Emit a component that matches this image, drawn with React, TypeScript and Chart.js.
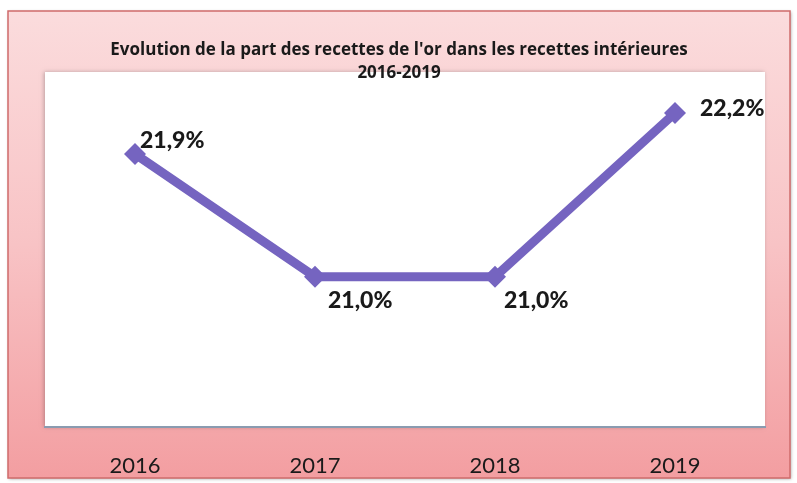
import React, { useEffect, useRef } from "react";
import { Chart, registerables } from "chart.js";

Chart.register(...registerables);

const years = ["2016", "2017", "2018", "2019"];
const shares = [21.9, 21.0, 21.0, 22.2];
const shareLabels = ["21,9%", "21,0%", "21,0%", "22,2%"];
const labelPlacement = ["aboveRight", "belowRight", "belowRight", "right"];
const titleLines = [
  "Evolution de la part des recettes de l'or dans les recettes intérieures",
  "2016-2019",
];

const TITLE_FONT = "'Open Sans', Lato, sans-serif";
const FONT = "Lato, 'Open Sans', sans-serif";

const framePlugin = {
  id: "frame",
  beforeDraw(chart: any) {
    const { ctx, chartArea } = chart;
    const x0 = 8, y0 = 11, x1 = 790, y1 = 478;
    ctx.save();
    const g = ctx.createLinearGradient(0, y0, 0, y1);
    g.addColorStop(0, "#fbdcdd");
    g.addColorStop(0.5, "#f8c3c5");
    g.addColorStop(1, "#f39ea1");
    ctx.shadowColor = "rgba(0,0,0,0.35)";
    ctx.shadowBlur = 3;
    ctx.shadowOffsetX = 1;
    ctx.shadowOffsetY = 1;
    ctx.fillStyle = g;
    ctx.fillRect(x0, y0, x1 - x0, y1 - y0);
    ctx.shadowColor = "transparent";
    ctx.strokeStyle = "#cf6b6b";
    ctx.lineWidth = 1.5;
    ctx.strokeRect(x0, y0, x1 - x0, y1 - y0);
    ctx.shadowColor = "rgba(0,0,0,0.25)";
    ctx.shadowBlur = 4;
    ctx.shadowOffsetX = -1;
    ctx.shadowOffsetY = 0;
    ctx.fillStyle = "#ffffff";
    ctx.fillRect(chartArea.left, chartArea.top, chartArea.right - chartArea.left, chartArea.bottom - chartArea.top);
    ctx.restore();
  },
  afterDraw(chart: any) {
    const { ctx } = chart;
    ctx.save();
    ctx.fillStyle = "#1a1a1a";
    ctx.font = `bold 17px ${TITLE_FONT}`;
    ctx.textAlign = "center";
    ctx.textBaseline = "middle";
    ctx.fillText(titleLines[0], 399, 50);
    ctx.fillText(titleLines[1], 399, 73);
    ctx.restore();
  },
};

const labelPlugin = {
  id: "pointLabels",
  afterDatasetsDraw(chart: any) {
    const { ctx } = chart;
    const meta = chart.getDatasetMeta(0);
    ctx.save();
    ctx.fillStyle = "#1a1a1a";
    ctx.font = `900 23px ${FONT}`;
    ctx.textAlign = "left";
    ctx.textBaseline = "middle";
    meta.data.forEach((pt: any, i: number) => {
      const p = labelPlacement[i];
      let dx = 8, dy = 0;
      if (p === "aboveRight") { dx = 5; dy = -13; }
      else if (p === "belowRight") { dx = i === 1 ? 13 : 9; dy = 24; }
      else if (p === "right") { dx = 25; dy = -4; }
      ctx.fillText(shareLabels[i], pt.x + dx, pt.y + dy);
    });
    ctx.restore();
  },
};

export default function App() {
  const ref = useRef<HTMLCanvasElement>(null);
  useEffect(() => {
    if (!ref.current) return;
    const chart = new Chart(ref.current, {
      type: "line",
      data: {
        labels: years,
        datasets: [
          {
            data: shares,
            borderColor: "#7564c0",
            backgroundColor: "#7564c0",
            borderWidth: 9,
            pointStyle: "rectRot",
            pointRadius: 11,
            pointBorderWidth: 0,
            tension: 0,
          },
        ],
      },
      options: {
        responsive: false,
        animation: false,
        layout: { padding: { left: 45, right: 32, top: 72, bottom: 0 } },
        plugins: { legend: { display: false }, title: { display: false }, tooltip: { enabled: false } },
        scales: {
          x: {
            offset: true,
            grid: { display: false, drawTicks: false },
            border: { display: true, color: "#8a9bb0", width: 2 },
            ticks: { color: "#1a1a1a", font: { family: FONT, size: 22 }, padding: 26 },
            afterFit(s: any) { s.height = 56; },
          },
          y: {
            display: false,
            min: 19.9,
            max: 22.5,
          },
        },
      },
      plugins: [framePlugin, labelPlugin],
    });
    return () => chart.destroy();
  }, []);
  return (
    <div style={{ position: "fixed", left: 0, top: 0, width: 797, height: 483 }}>
      <canvas ref={ref} width={797} height={483} />
    </div>
  );
}
